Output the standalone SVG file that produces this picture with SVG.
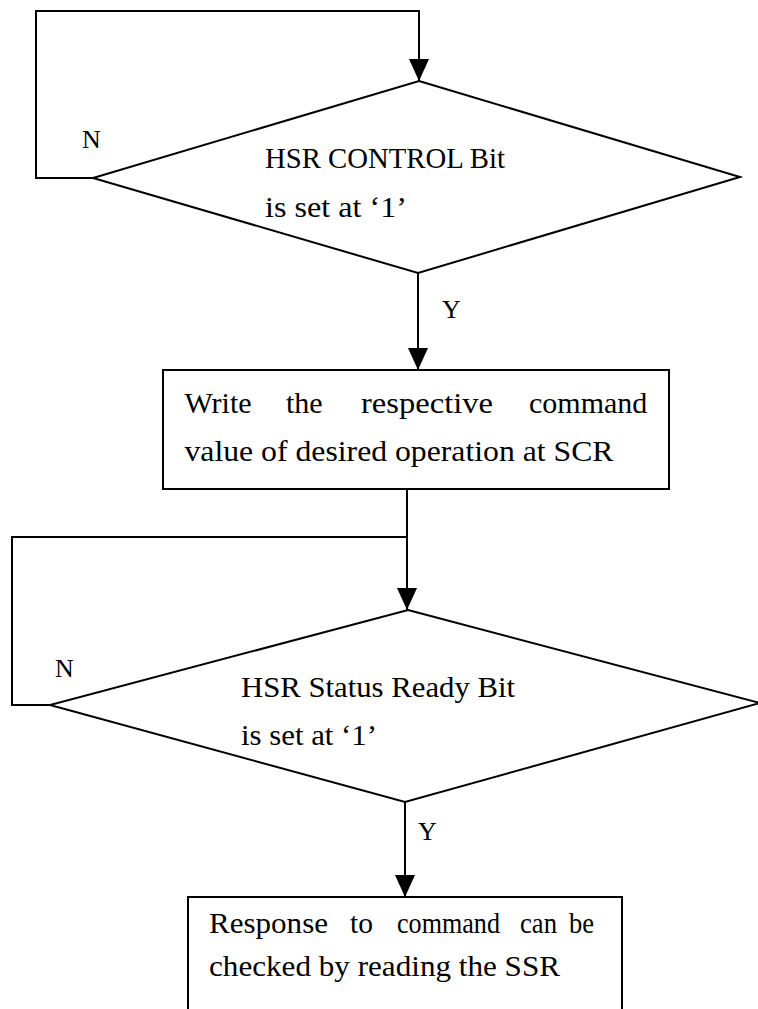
<svg xmlns="http://www.w3.org/2000/svg" width="758" height="1009" viewBox="0 0 758 1009">
<style>
.ln{fill:none;stroke:#000;stroke-width:2}
.sh{fill:#fff;stroke:#000;stroke-width:2}
.t{font-family:"Liberation Serif","Times New Roman",serif;font-size:30px;fill:#000}
.s{font-size:28.5px}
.lb{font-family:"Liberation Serif","Times New Roman",serif;font-size:26px;fill:#000}
</style>
<defs>
<marker id="arr" markerWidth="22" markerHeight="20" refX="22" refY="10" orient="auto" markerUnits="userSpaceOnUse" viewBox="0 0 22 20">
<path d="M0,0 L22,10 L0,20 Z" fill="#000"/>
</marker>
</defs>
<g id="connectors">
<polyline class="ln" points="93,178 36,178 36,11 419,11 419,81" marker-end="url(#arr)"/>
<line class="ln" x1="418" y1="273" x2="418" y2="370" marker-end="url(#arr)"/>
<line class="ln" x1="407" y1="489" x2="407" y2="610" marker-end="url(#arr)"/>
<polyline class="ln" points="50,705 12,705 12,537 407,537"/>
<line class="ln" x1="405" y1="802" x2="405" y2="897" marker-end="url(#arr)"/>
<text class="lb" x="82" y="148">N</text>
<text class="lb" x="442" y="318">Y</text>
<text class="lb" x="55" y="677">N</text>
<text class="lb" x="418" y="840">Y</text>
</g>
<g id="decision1">
<polygon class="sh" points="419,81 740,177 418,273 93,178"/>
<text class="t s" x="265" y="168" textLength="240" lengthAdjust="spacingAndGlyphs">HSR CONTROL Bit</text>
<text class="t s" x="265" y="217" textLength="142" lengthAdjust="spacingAndGlyphs">is set at ‘1’</text>
</g>
<g id="process1">
<rect class="sh" x="163" y="370" width="506" height="119"/>
<text class="t" y="413"><tspan x="184.5">Write</tspan><tspan x="286">the</tspan><tspan x="361" textLength="132" lengthAdjust="spacingAndGlyphs">respective</tspan><tspan x="529">command</tspan></text>
<text class="t" x="184.5" y="461" textLength="429" lengthAdjust="spacingAndGlyphs">value of desired operation at SCR</text>
</g>
<g id="decision2">
<polygon class="sh" points="408,610 760,703 405,802 50,705"/>
<text class="t" x="241" y="697" textLength="274" lengthAdjust="spacingAndGlyphs">HSR Status Ready Bit</text>
<text class="t" x="241" y="745" textLength="136" lengthAdjust="spacingAndGlyphs">is set at ‘1’</text>
</g>
<g id="process2">
<rect class="sh" x="188" y="897" width="434" height="130"/>
<text class="t" y="933"><tspan x="209" textLength="119" lengthAdjust="spacingAndGlyphs">Response</tspan><tspan x="350" textLength="23" lengthAdjust="spacingAndGlyphs">to</tspan><tspan x="397" textLength="103" lengthAdjust="spacingAndGlyphs">command</tspan><tspan x="520" textLength="37" lengthAdjust="spacingAndGlyphs">can</tspan><tspan x="569" textLength="25" lengthAdjust="spacingAndGlyphs">be</tspan></text>
<text class="t" x="209" y="976" textLength="351" lengthAdjust="spacingAndGlyphs">checked by reading the SSR</text>
</g>
</svg>
